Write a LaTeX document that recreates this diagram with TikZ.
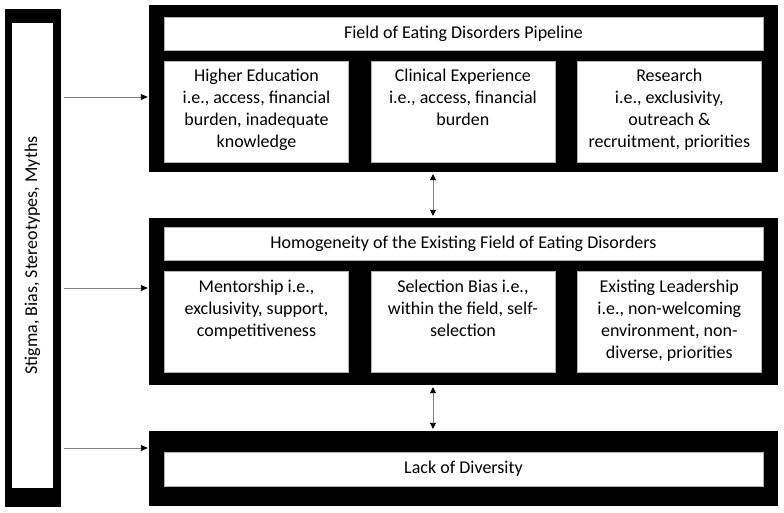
\documentclass[tikz,border=0pt]{standalone}
\usepackage{fontspec}
\setmainfont{Carlito}
\usetikzlibrary{arrows.meta,positioning}

% text of a cell is set from the top of the box
\newcommand{\celltext}[1]{\parbox[t][85pt][t]{176pt}{\centering #1}}

\begin{document}
\begin{tikzpicture}[%
    x=1pt, y=-1pt,              % measure like the page, top-down
    font=\fontsize{18}{22}\selectfont,
    ]
% -------------------------------------------------
% Box and connector styles
\tikzset{
  frame/.style={fill=black, inner sep=0pt, minimum width=629pt},
  head/.style={fill=white, draw=gray!60, line width=0.4pt, inner sep=0pt,
    minimum width=599pt, minimum height=33pt},
  cell/.style={fill=white, draw=gray!60, line width=0.4pt, inner xsep=4pt,
    inner ysep=8pt, minimum width=184pt, minimum height=101pt},
  % connectors: grey line, black tips
  feed/.style={draw=gray, line width=0.9pt, shorten <=3pt, shorten >=1pt,
    -{Triangle[black, length=7pt, width=6pt]}},
  link/.style={draw=gray, line width=0.9pt, shorten <=2pt, shorten >=2pt,
    {Triangle[black, length=6pt, width=6pt]}-{Triangle[black, length=6pt, width=6pt]}}
}
\useasboundingbox (0,0) rectangle (784,512);
% -------------------------------------------------
% The bar on the left
\node [fill=black, inner sep=0pt, minimum width=56pt, minimum height=498pt] (stig) at (33,258) {};
\node [fill=white, inner sep=0pt, rotate=90, minimum width=465pt, minimum height=41pt]
  (myths) at (32.5,255.5) {Stigma, Bias, Stereotypes, Myths};
% -------------------------------------------------
% Pipeline frame
\node [frame, minimum height=167pt] (pipe) at (463.5,88.5) {};
\node [head] (ptitle) at (463.5,33.5) {Field of Eating Disorders Pipeline};
\node [cell] (edu) at (256.5,111.5) {\celltext{Higher Education\\ i.e., access, financial\\ burden, inadequate\\ knowledge}};
\node [cell, right=22pt of edu] (clin) {\celltext{Clinical Experience\\ i.e., access, financial\\ burden}};
\node [cell, right=22pt of clin] (res) {\celltext{Research\\ i.e., exclusivity,\\ outreach \&\\ recruitment, priorities}};
% -------------------------------------------------
% Homogeneity frame
\node [frame, minimum height=167pt] (homog) at (463.5,301.5) {};
\node [head] (htitle) at (463.5,244) {Homogeneity of the Existing Field of Eating Disorders};
\node [cell] (ment) at (256.5,322) {\celltext{Mentorship i.e.,\\ exclusivity, support,\\ competitiveness}};
\node [cell, right=22pt of ment] (sel) {\celltext{Selection Bias i.e.,\\ within the field, self-\\ selection}};
\node [cell, right=22pt of sel] (lead) {\celltext{Existing Leadership\\ i.e., non-welcoming\\ environment, non-\\ diverse, priorities}};
% -------------------------------------------------
% Outcome frame
\node [frame, minimum height=75pt] (lack) at (463.5,468.5) {};
\node [head, minimum height=34pt] (ltitle) at (463.5,469) {Lack of Diversity};
% -------------------------------------------------
% Rows of the arrows from the bar, and column of the links
\coordinate (r1) at (0,97);
\coordinate (r2) at (0,288);
\coordinate (r3) at (0,448);
\coordinate (mid) at (433,0);
\draw [feed] (stig.east |- r1) -- (pipe.west |- r1);
\draw [feed] (stig.east |- r2) -- (homog.west |- r2);
\draw [feed] (stig.east |- r3) -- (lack.west |- r3);
\draw [link] (pipe.south -| mid) -- (homog.north -| mid);
\draw [link] (homog.south -| mid) -- (lack.north -| mid);
\end{tikzpicture}
\end{document}
